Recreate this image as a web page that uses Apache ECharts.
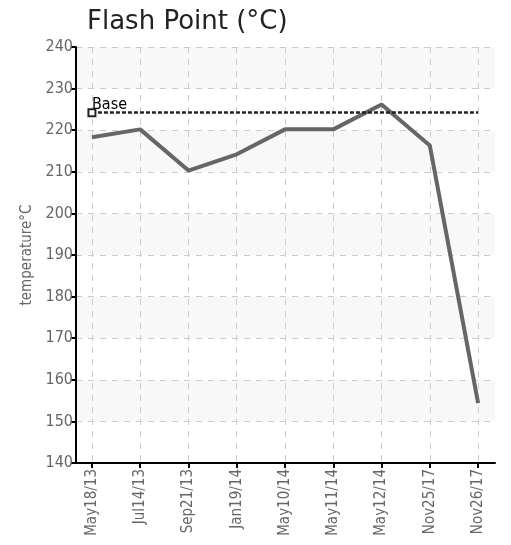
<!DOCTYPE html>
<html><head><meta charset="utf-8">
<script src="https://cdn.jsdelivr.net/npm/echarts@6/dist/echarts.min.js"></script>
<style>html,body{margin:0;padding:0;background:#fff}#c{width:511px;height:545px}</style>
</head><body><div id="c"></div>
<script>
var categories = ['May18/13','Jul14/13','Sep21/13','Jan19/14','May10/14','May11/14','May12/14','Nov25/17','Nov26/17'];
var flashPoint = [218.3, 220.2, 210.3, 214.2, 220.2, 220.2, 226.2, 216.3, 154.4];
var baseValue = 224.2;
var yTicks = [140,150,160,170,180,190,200,210,220,230,240];

var idx = categories.map(function(_, i){ return i; });
var chart = echarts.init(document.getElementById('c'), null, {renderer:'canvas'});
var labelFont = 'DejaVu Sans Condensed';
chart.setOption({
  animation:false,
  backgroundColor:'#fff',
  title:{text:'Flash Point (°C)', left:82, top:4, textStyle:{fontFamily:'DejaVu Sans', fontSize:26, fontWeight:'normal', color:'#222'}},
  grid:{left:76, right:16, top:47, bottom:82, containLabel:false},
  xAxis:{
    type:'value', min:-0.33, max:8.35,
    axisLine:{show:true, onZero:false, lineStyle:{color:'#000', width:2}},
    axisTick:{show:true, customValues:idx, length:5, lineStyle:{color:'#000', width:2}},
    axisLabel:{customValues:idx, rotate:90, formatter:function(v){return categories[Math.round(v)];}, fontFamily:labelFont, fontSize:15, color:'#666', margin:6},
    splitLine:{show:true, lineStyle:{color:'#ccc', type:[6,6], width:1}}
  },
  yAxis:{
    type:'value', min:140, max:240, interval:10,
    name:'temperature°C', nameLocation:'middle', nameGap:40, nameRotate:90,
    nameTextStyle:{fontFamily:labelFont, fontSize:15, color:'#666'},
    axisLine:{show:true, onZero:false, lineStyle:{color:'#000', width:2}},
    axisTick:{show:true, length:5, lineStyle:{color:'#000', width:2}},
    axisLabel:{fontFamily:labelFont, fontSize:16, color:'#666', margin:3},
    splitLine:{show:true, lineStyle:{color:'#ccc', type:[6,6], width:1}},
    splitArea:{show:true, areaStyle:{color:['#ffffff','#f8f8f8']}}
  },
  series:[{
    type:'line',
    data: idx.map(function(i){ return [i, flashPoint[i]]; }),
    showSymbol:false, symbol:'none',
    lineStyle:{color:'#666', width:4},
    markLine:{
      silent:true,
      symbol:['emptyRect','none'], symbolSize:[7,7],
      lineStyle:{color:'#222', type:[4,2], width:2.5},
      label:{show:true, position:'insideStartTop', formatter:'Base', color:'#000', fontFamily:labelFont, fontSize:16, distance:[0,0]},
      data:[[{coord:[0, baseValue]}, {coord:[8, baseValue]}]]
    }
  }]
});
</script></body></html>
